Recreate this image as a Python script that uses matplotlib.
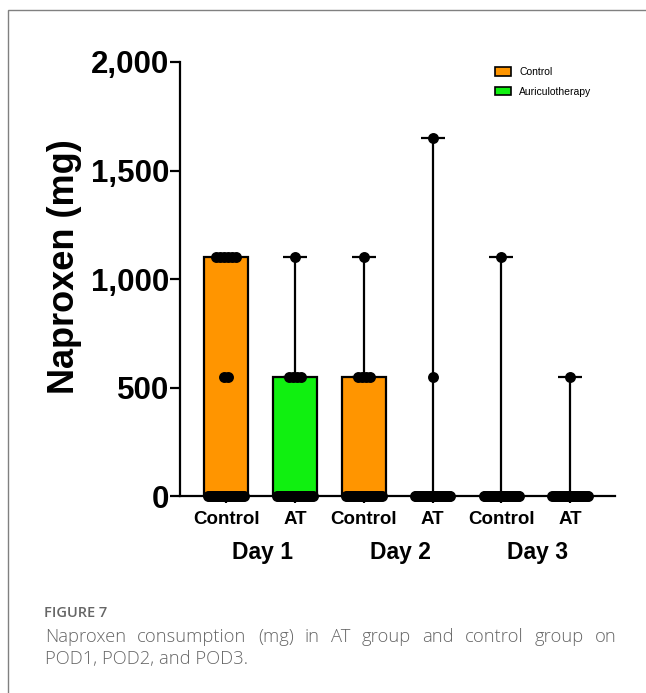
import numpy as np
import matplotlib.pyplot as plt
from matplotlib.patches import Rectangle, Patch
from matplotlib.ticker import FuncFormatter
import matplotlib.transforms as mtransforms

plt.rcParams["font.family"] = ["Liberation Sans", "DejaVu Sans"]

# groups, in plotting order
group_labels = ["Control", "AT", "Control", "AT", "Control", "AT"]
group_kind = ["control", "at", "control", "at", "control", "at"]
day_labels = ["Day 1", "Day 2", "Day 3"]

# median (bar) and maximum (whisker) naproxen dose, mg
median_mg = [1100, 550, 550, 0, 0, 0]
max_mg = [1100, 1100, 1100, 1650, 1100, 550]

# individual patients: dose value -> number of patients
points = [
    {0: 22, 550: 2, 1100: 6},
    {0: 22, 550: 4, 1100: 1},
    {0: 22, 550: 4, 1100: 1},
    {0: 24, 550: 1, 1650: 1},
    {0: 24, 1100: 1},
    {0: 24, 550: 1},
]

colors = {"control": "#ff9500", "at": "#10f010"}

W, H, DPI = 646, 693, 100
fig = plt.figure(figsize=(W / DPI, H / DPI), dpi=DPI)
ax = fig.add_axes([180 / W, 1 - 496 / H, 435 / W, 434 / H])

x = np.arange(len(group_labels))
bar_w = 0.64

ax.bar(x, median_mg, width=bar_w,
       color=[colors[k] for k in group_kind],
       edgecolor="black", linewidth=1.6, zorder=2)

# range whisker goes up from the median to the max
up = np.array(max_mg) - np.array(median_mg)
ax.errorbar(x, max_mg, yerr=[up, np.zeros_like(up)], fmt="none",
            ecolor="black", elinewidth=1.6, capsize=8.5, capthick=1.6,
            zorder=3)

# scatter the patients, spreading equal values sideways
for i, pts in enumerate(points):
    for val, n in pts.items():
        half = min((n - 1) * 0.03, 0.26)
        offs = np.linspace(-half, half, n) if n > 1 else np.array([0.0])
        ax.scatter(x[i] + offs, np.full(n, val), s=62, color="black",
                   linewidths=0, zorder=4, clip_on=False)

ax.set_xlim(-0.67, 5.65)
ax.set_ylim(0, 2000)
ax.set_yticks([0, 500, 1000, 1500, 2000])
ax.yaxis.set_major_formatter(FuncFormatter(lambda v, p: f"{int(v):,}"))
ax.set_xticks(x)
ax.set_xticklabels(group_labels, fontsize=13.5, fontweight="bold")
for lab in ax.get_yticklabels():
    lab.set_fontsize(22.5)
    lab.set_fontweight("bold")

ax.spines["top"].set_visible(False)
ax.spines["right"].set_visible(False)
ax.spines["left"].set_linewidth(1.6)
ax.spines["bottom"].set_linewidth(1.6)
ax.tick_params(axis="y", length=7, width=1.6, pad=1)
ax.tick_params(axis="x", length=5, width=1.6, pad=6)

fig.text(64 / W, 1 - 267 / H, "Naproxen (mg)", rotation=90, ha="center",
         va="center", fontsize=26, fontweight="bold")

# day labels under each pair
trans = mtransforms.blended_transform_factory(ax.transData, fig.transFigure)
for d, lab in enumerate(day_labels):
    ax.text(2 * d + 0.53, 1 - 552 / H, lab, transform=trans, ha="center",
            va="center", fontsize=16.5, fontweight="bold")

handles = [
    Patch(facecolor=colors["control"], edgecolor="black", linewidth=1.2,
          label="Control"),
    Patch(facecolor=colors["at"], edgecolor="black", linewidth=1.2,
          label="Auriculotherapy"),
]
fig.legend(handles=handles, loc="upper left",
           bbox_to_anchor=(486 / W, 1 - 58 / H), frameon=False,
           fontsize=7.5, handlelength=1.5, handleheight=0.9,
           handletextpad=0.8, labelspacing=0.9)

# panel frame and caption
fig.add_artist(Rectangle((8 / W, -0.1), 1.2, (H - 10) / H + 0.1,
                         transform=fig.transFigure, fill=False,
                         edgecolor="#808080", linewidth=1.0))
cap_font = ["Open Sans", "DejaVu Sans"]
cap_color = "#666666"
fig.text(44 / W, 1 - 617 / H, "FIGURE 7", fontsize=10.5, color=cap_color,
         family=cap_font, fontweight="semibold", va="baseline")


def justified_line(words, x0, x1, y, **kw):
    # lay out words so the line fills x0..x1 (pixels)
    renderer = fig.canvas.get_renderer()
    arts = [fig.text(0, 1 - y / H, w, va="baseline", **kw) for w in words]
    widths = [a.get_window_extent(renderer).width for a in arts]
    gap = (x1 - x0 - sum(widths)) / (len(words) - 1)
    pos = x0
    for a, w in zip(arts, widths):
        a.set_x(pos / W)
        pos += w + gap


cap_kw = dict(fontsize=13.2, color=cap_color, family=cap_font,
              fontweight="light")
justified_line("Naproxen consumption (mg) in AT group and control group on".split(),
               45, 617, 642, **cap_kw)
fig.text(45 / W, 1 - 664 / H, "POD1, POD2, and POD3.", va="baseline", **cap_kw)

fig.savefig("out.png", dpi=DPI)
